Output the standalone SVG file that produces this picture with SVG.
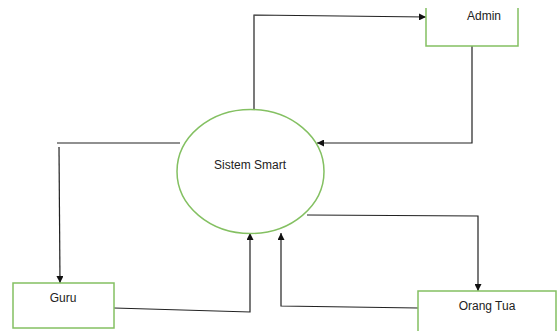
<svg xmlns="http://www.w3.org/2000/svg" width="557" height="331" viewBox="0 0 557 331">
  <style>
    .node { fill: #ffffff; stroke: #84c062; stroke-width: 1.5; }
    .label { font-family: "Liberation Sans", Arial, sans-serif; font-size: 12px; fill: #222; text-anchor: middle; dominant-baseline: middle; }
    .flow { fill: none; stroke: #222; stroke-width: 1.2; }
  </style>
  <defs>
    <marker id="arrow" viewBox="0 0 10 10" refX="10" refY="5" markerWidth="7" markerHeight="7" markerUnits="userSpaceOnUse" orient="auto">
      <path d="M0,0 L10,5 L0,10 Z" fill="#111"/>
    </marker>
  </defs>
  <rect width="557" height="331" fill="#ffffff"/>

  <g id="connectors">
    <!-- process to Admin -->
    <polyline class="flow" points="254,110 254,15 426,17" marker-end="url(#arrow)"/>
    <!-- Admin to process -->
    <polyline class="flow" points="472,42 472,143 317,143" marker-end="url(#arrow)"/>
    <!-- process to Guru -->
    <line class="flow" x1="180" y1="143" x2="57" y2="143"/>
    <line class="flow" x1="59" y1="147" x2="60" y2="283" marker-end="url(#arrow)"/>
    <!-- Guru to process -->
    <polyline class="flow" points="114,308 250,312 250,233" marker-end="url(#arrow)"/>
    <!-- process to Orang Tua -->
    <polyline class="flow" points="307,215 478,216 478,291" marker-end="url(#arrow)"/>
    <!-- Orang Tua to process -->
    <polyline class="flow" points="418,308 281,306 281,233" marker-end="url(#arrow)"/>
  </g>

  <g id="sistem-smart">
    <ellipse class="node" cx="250.5" cy="171.5" rx="73.5" ry="62"/>
    <text class="label" x="250" y="166">Sistem Smart</text>
  </g>

  <g id="admin">
    <path class="node" d="M426,8 L426,46 L518,46 L518,8"/>
    <text class="label" x="484" y="17">Admin</text>
  </g>

  <g id="guru">
    <rect class="node" x="13" y="283" width="101" height="45"/>
    <text class="label" x="63" y="299">Guru</text>
  </g>

  <g id="orang-tua">
    <path class="node" d="M418,332 L418,291 L556,291 L556,332"/>
    <text class="label" x="487" y="307">Orang Tua</text>
  </g>
</svg>
